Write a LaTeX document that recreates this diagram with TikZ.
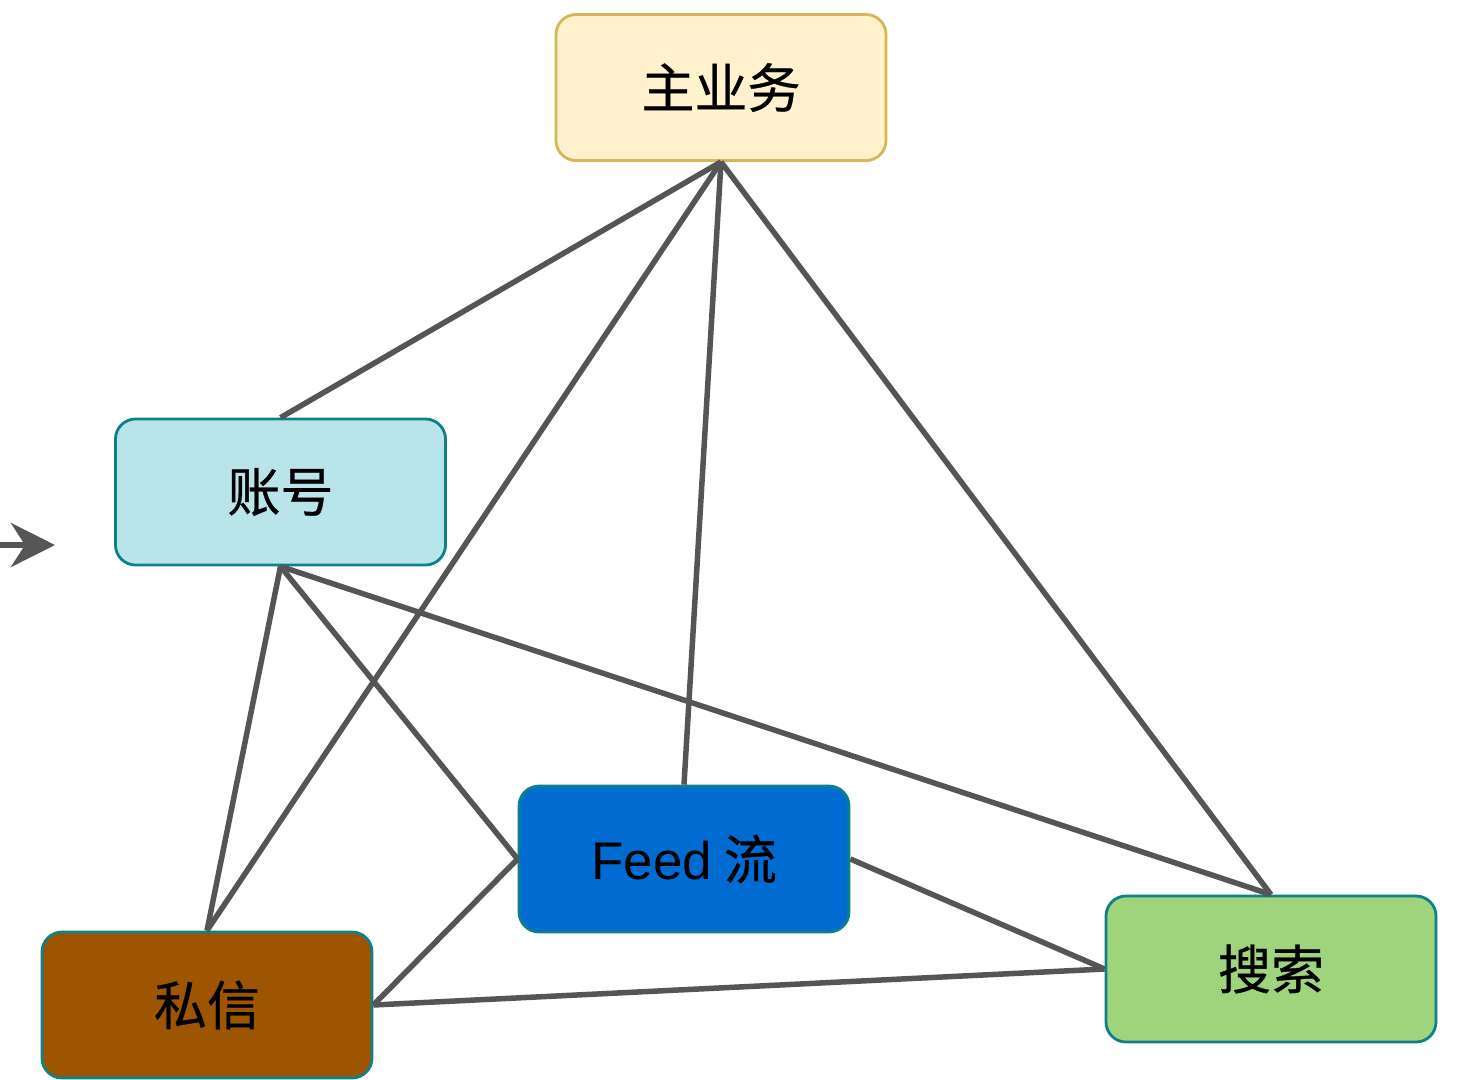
\documentclass[tikz,border=0pt]{standalone}
\usepackage{fontspec}
\newfontfamily\cjk[FakeBold=0.6]{Noto Sans CJK SC}
\newfontfamily\lat{Liberation Sans}
\usetikzlibrary{arrows.meta}
\definecolor{edgec}{RGB}{85,85,85}
\definecolor{tealb}{RGB}{14,128,136}
\definecolor{yelf}{RGB}{255,242,204}
\definecolor{yelb}{RGB}{214,182,86}
\definecolor{cyanf}{RGB}{184,228,234}
\definecolor{bluef}{RGB}{0,108,210}
\definecolor{brownf}{RGB}{158,85,0}
\definecolor{greenf}{RGB}{160,212,124}
\tikzset{
  box/.style={draw=tealb, line width=2.8pt, rounded corners=20pt, minimum width=330pt, minimum height=146pt, inner sep=0pt, font=\cjk\fontsize{53}{60}\selectfont, text=black},
  link/.style={draw=edgec, line width=5.5pt},
}
\begin{document}
\begin{tikzpicture}[x=1pt,y=-1pt]
\useasboundingbox (0,0) rectangle (1461,1079);
\node[box, fill=yelf, draw=yelb] (main) at (721,87.5) {主业务};
\node[box, fill=cyanf] (acct) at (280.5,492) {账号};
\node[box, fill=bluef] (feed) at (684,859) {{\lat Feed} 流};
\node[box, fill=brownf] (msg) at (207,1005) {私信};
\node[box, fill=greenf] (search) at (1271,969) {搜索};
\draw[link] (main.south) -- (acct.north);
\draw[link] (main.south) -- (msg.north);
\draw[link] (main.south) -- (feed.north);
\draw[link] (main.south) -- (search.north);
\draw[link] (acct.south) -- (msg.north);
\draw[link] (acct.south) -- (feed.west);
\draw[link] (acct.south) -- (search.north);
\draw[link] (feed.east) -- (search.west);
\draw[link] (feed.west) -- (msg.east);
\draw[link] (msg.east) -- (search.west);
\coordinate (arrS) at (0,545);
\coordinate (arrE) at (55,545);
\draw[link, -{Stealth[length=44pt, width=44pt, inset=14pt]}] (arrS) -- (arrE);
\end{tikzpicture}
\end{document}
